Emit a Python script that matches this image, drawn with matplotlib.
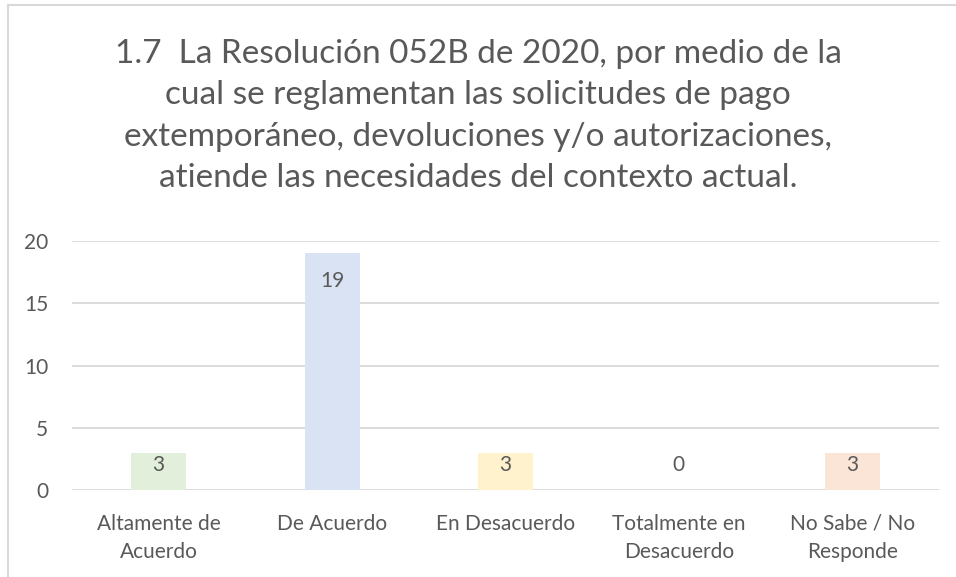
import matplotlib
matplotlib.use("Agg")
import matplotlib.pyplot as plt
from matplotlib.lines import Line2D
import numpy as np

plt.rcParams['font.family'] = ['Lato', 'DejaVu Sans']

categories = ["Altamente de\nAcuerdo", "De Acuerdo", "En Desacuerdo",
              "Totalmente en\nDesacuerdo", "No Sabe / No\nResponde"]
values = [3, 19, 3, 0, 3]
bar_colors = ["#E2EFDA", "#DAE3F3", "#FFF2CC", "#EDEDED", "#FBE5D6"]
title = ("1.7  La Resolución 052B de 2020, por medio de la\n"
         "cual se reglamentan las solicitudes de pago\n"
         "extemporáneo, devoluciones y/o autorizaciones,\n"
         "atiende las necesidades del contexto actual.")

text_col = "#595959"
grid_col = "#D9D9D9"

W, H = 956, 577
fig = plt.figure(figsize=(W / 100, H / 100), dpi=100)
ax = fig.add_axes([72 / W, 1 - 490 / H, (939 - 72) / W, (490 - 241) / H])

x = np.arange(len(values))
ax.bar(x, values, width=0.317, color=bar_colors, zorder=2)

# data labels sit inside the top of the bar, small bars get a fixed height
for xi, v in zip(x, values):
    ax.text(xi, max(v - 2.2, 2.0), str(v), ha='center', va='center',
            fontsize=15, color=text_col, zorder=3)

ax.set_xlim(-0.5, len(values) - 0.5)
ax.set_ylim(0, 20)
ax.set_yticks(range(0, 21, 5))
ax.set_xticks(x)
ax.set_xticklabels(categories, linespacing=1.5)
ax.yaxis.grid(True, color=grid_col, linewidth=1.3, zorder=0)
ax.tick_params(axis='both', length=0, labelsize=15, colors=text_col)
ax.tick_params(axis='y', pad=17)
ax.tick_params(axis='x', pad=17)
for s in ax.spines.values():
    s.set_visible(False)

fig.text(0.5, 1 - 116 / H, title, ha='center', va='center', fontsize=24,
         color=text_col, linespacing=1.48)

# chart area border (only top and left edges fall inside the picture)
fig.add_artist(Line2D([7.5 / W, 7.5 / W], [0, 1 - 5 / H], color=grid_col, lw=1.5))
fig.add_artist(Line2D([7.5 / W, 1], [1 - 5 / H, 1 - 5 / H], color=grid_col, lw=1.5))

fig.savefig("out.png", dpi=100, facecolor="white")
